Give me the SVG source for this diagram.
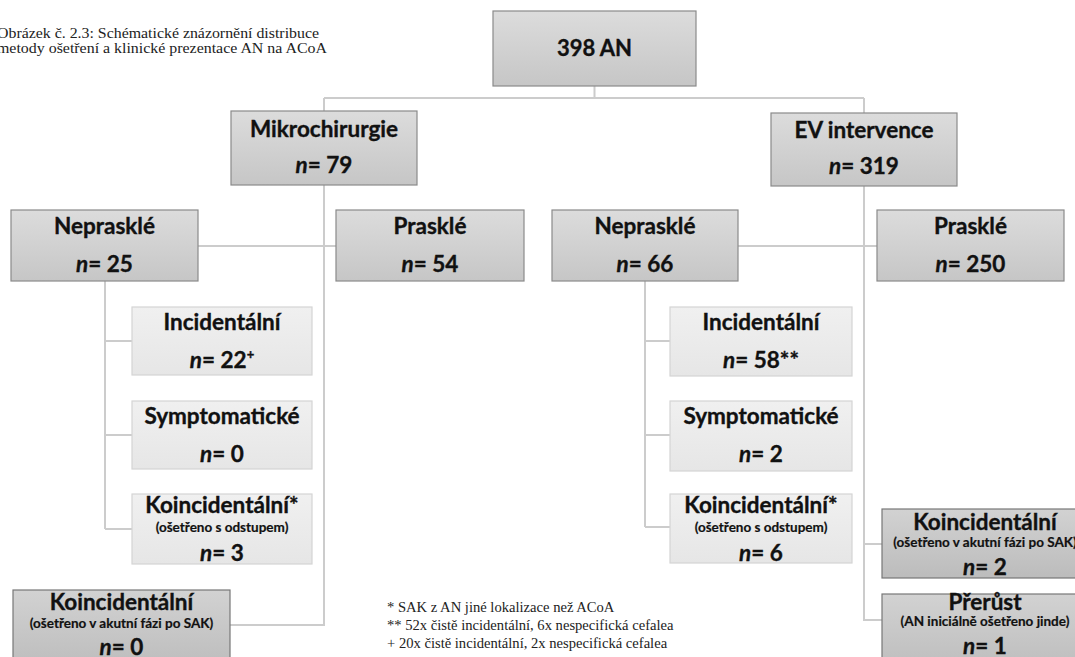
<svg xmlns="http://www.w3.org/2000/svg" width="1075" height="657" viewBox="0 0 1075 657">
  <defs>
    <linearGradient id="gDark" x1="0" y1="0" x2="0" y2="1">
      <stop offset="0" stop-color="#dcdcdc"/>
      <stop offset="1" stop-color="#c6c6c6"/>
    </linearGradient>
    <linearGradient id="gLight" x1="0" y1="0" x2="0" y2="1">
      <stop offset="0" stop-color="#f0f0f0"/>
      <stop offset="1" stop-color="#e6e6e6"/>
    </linearGradient>
    <linearGradient id="gDeep" x1="0" y1="0" x2="0" y2="1">
      <stop offset="0" stop-color="#d2d2d2"/>
      <stop offset="1" stop-color="#bcbcbc"/>
    </linearGradient>
  </defs>
  <style>
    .dark { fill: url(#gDark); stroke: #8a8a8a; stroke-width: 1.2; }
    .light { fill: url(#gLight); stroke: #d4d4d4; stroke-width: 1.2; }
    .deep { fill: url(#gDeep); stroke: #777777; stroke-width: 1.2; }
    .conn { fill: none; stroke: #cccccc; stroke-width: 2; }
    .t { font-family: Lato, "Open Sans", "Liberation Sans", sans-serif; font-weight: 700; fill: #111111; stroke: #111111; stroke-width: 0.35; text-anchor: middle; font-size: 22.5px; }
    .big { font-size: 22px; }
    .sm { font-size: 13.5px; stroke-width: 0.2; }
    .sup { font-size: 13px; }
    .i { font-style: italic; }
    .cap { font-family: "Liberation Serif", serif; font-size: 15.5px; fill: #222222; }
    .note { font-family: "Liberation Serif", serif; font-size: 14.6px; fill: #222222; }
  </style>

  <rect width="1075" height="657" fill="#ffffff"/>

  <!-- caption -->
  <text class="cap" x="-3" y="38" textLength="322" lengthAdjust="spacingAndGlyphs">Obrázek č. 2.3: Schématické znázornění distribuce</text>
  <text class="cap" x="-3" y="53" textLength="330" lengthAdjust="spacingAndGlyphs">metody ošetření a klinické  prezentace AN na ACoA</text>

  <!-- connectors -->
  <g id="connectors" class="conn">
    <path d="M594.5 86 V98 M324 98 H864"/>
    <path d="M324 98 V625 H230"/>
    <path d="M864 98 V620 H882 M864 544 H882"/>
    <path d="M198 246 H336"/>
    <path d="M738 246 H877"/>
    <path d="M105 281 V529 M105 341 H132 M105 435 H132 M105 529 H132"/>
    <path d="M645 281 V527 M645 341 H670 M645 435 H670 M645 527 H670"/>
  </g>

  <g id="root">
    <rect class="dark" x="493" y="11" width="203" height="75"/>
    <text class="t big" x="594.5" y="56">398 AN</text>
  </g>

  <g id="mikrochirurgie">
    <rect class="dark" x="231" y="111" width="186" height="74"/>
    <text class="t" x="324" y="137">Mikrochirurgie</text>
    <text class="t" x="324" y="173"><tspan class="i">n</tspan>= 79</text>
  </g>

  <g id="ev-intervence">
    <rect class="dark" x="771" y="113" width="186" height="73"/>
    <text class="t" x="864" y="138">EV intervence</text>
    <text class="t" x="864" y="174"><tspan class="i">n</tspan>= 319</text>
  </g>

  <g id="mikro-nepraskle">
    <rect class="dark" x="11" y="210" width="187" height="71"/>
    <text class="t" x="104.5" y="234">Nepraskl&#233;</text>
    <text class="t" x="104.5" y="272"><tspan class="i">n</tspan>= 25</text>
  </g>

  <g id="mikro-praskle">
    <rect class="dark" x="336" y="210" width="188" height="71"/>
    <text class="t" x="430" y="234">Prasklé</text>
    <text class="t" x="430" y="272"><tspan class="i">n</tspan>= 54</text>
  </g>

  <g id="ev-nepraskle">
    <rect class="dark" x="552" y="210" width="186" height="71"/>
    <text class="t" x="645" y="234">Nepraskl&#233;</text>
    <text class="t" x="645" y="272"><tspan class="i">n</tspan>= 66</text>
  </g>

  <g id="ev-praskle">
    <rect class="dark" x="877" y="210" width="187" height="71"/>
    <text class="t" x="970.5" y="234">Prasklé</text>
    <text class="t" x="970.5" y="272"><tspan class="i">n</tspan>= 250</text>
  </g>

  <g id="mikro-incidentalni">
    <rect class="light" x="132" y="307" width="180" height="68"/>
    <text class="t" x="222" y="330">Incidentální</text>
    <text class="t" x="222" y="368"><tspan class="i">n</tspan>= 22<tspan class="sup" dy="-9">+</tspan></text>
  </g>

  <g id="mikro-symptomaticke">
    <rect class="light" x="132" y="401" width="180" height="68"/>
    <text class="t" x="222" y="424">Symptomatické</text>
    <text class="t" x="222" y="462"><tspan class="i">n</tspan>= 0</text>
  </g>

  <g id="mikro-koincidentalni">
    <rect class="light" x="132" y="494" width="180" height="70"/>
    <text class="t" x="222" y="513">Koincidentální*</text>
    <text class="t sm" x="222" y="532">(ošetřeno s odstupem)</text>
    <text class="t" x="222" y="561"><tspan class="i">n</tspan>= 3</text>
  </g>

  <g id="mikro-koincidentalni-akutni">
    <rect class="deep" x="13" y="590" width="217" height="80"/>
    <text class="t" x="121.5" y="610">Koincidentální</text>
    <text class="t sm" x="121.5" y="628">(ošetřeno v akutní fázi po SAK)</text>
    <text class="t" x="121.5" y="655"><tspan class="i">n</tspan>= 0</text>
  </g>

  <g id="ev-incidentalni">
    <rect class="light" x="670" y="307" width="182" height="69"/>
    <text class="t" x="761" y="330">Incidentální</text>
    <text class="t" x="761" y="368"><tspan class="i">n</tspan>= 58**</text>
  </g>

  <g id="ev-symptomaticke">
    <rect class="light" x="670" y="401" width="182" height="70"/>
    <text class="t" x="761" y="424">Symptomatické</text>
    <text class="t" x="761" y="462"><tspan class="i">n</tspan>= 2</text>
  </g>

  <g id="ev-koincidentalni">
    <rect class="light" x="670" y="494" width="182" height="69"/>
    <text class="t" x="761" y="513">Koincidentální*</text>
    <text class="t sm" x="761" y="532">(ošetřeno s odstupem)</text>
    <text class="t" x="761" y="561"><tspan class="i">n</tspan>= 6</text>
  </g>

  <g id="ev-koincidentalni-akutni">
    <rect class="deep" x="882" y="509" width="206" height="69"/>
    <text class="t" x="985" y="530">Koincidentální</text>
    <text class="t sm" x="985" y="547">(ošetřeno v akutní fázi po SAK)</text>
    <text class="t" x="985" y="575"><tspan class="i">n</tspan>= 2</text>
  </g>

  <g id="ev-prerust">
    <rect class="deep" x="882" y="594" width="206" height="80"/>
    <text class="t" x="985" y="610">Přerůst</text>
    <text class="t sm" x="985" y="626">(AN iniciálně ošetřeno jinde)</text>
    <text class="t" x="985" y="654"><tspan class="i">n</tspan>= 1</text>
  </g>

  <!-- footnotes -->
  <text class="note" x="387" y="612">* SAK z AN jiné lokalizace  než ACoA</text>
  <text class="note" x="387" y="630">** 52x čistě incidentální, 6x nespecifická cefalea</text>
  <text class="note" x="387" y="648">+ 20x čistě incidentální, 2x nespecifická cefalea</text>
</svg>
